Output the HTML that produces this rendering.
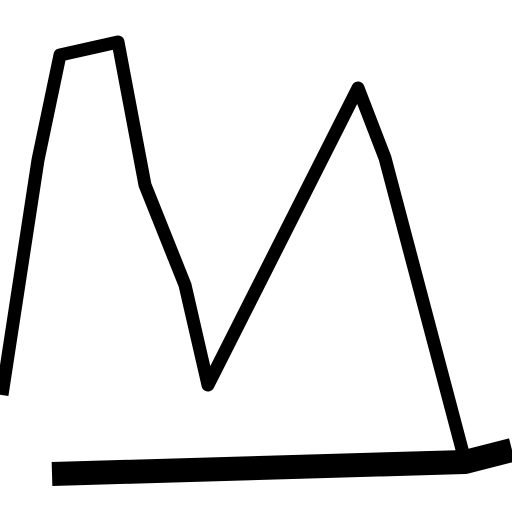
<!DOCTYPE html>
<html><head><meta charset="utf-8"><style>
html,body{margin:0;padding:0;background:#fff;width:512px;height:512px;overflow:hidden}
svg{display:block}
</style></head><body>
<svg id="chart" width="512" height="512" viewBox="0 0 512 512"></svg>
<script>
const lineX = [2, 38, 60, 118, 145, 185, 208, 358, 385, 468];
const lineY = [117, 352, 457, 470, 327, 227, 127, 424, 354, 40];
const baseX = [52, 465, 512];
const baseY = [38, 50, 62];
function sx(v){ return v * 512 / 512; }
function sy(v){ return 512 - v * 512 / 512; }
const svg = document.getElementById('chart');
const NS = 'http://www.w3.org/2000/svg';
function path(xs, ys, w, name){
  const p = document.createElementNS(NS, 'path');
  let d = '';
  for (let i = 0; i < xs.length; i++) d += (i ? 'L' : 'M') + sx(xs[i]) + ',' + sy(ys[i]);
  p.setAttribute('d', d);
  p.setAttribute('fill', 'none');
  p.setAttribute('stroke', '#000');
  p.setAttribute('stroke-width', w);
  p.setAttribute('stroke-linejoin', 'round');
  
  
  svg.appendChild(p);
}
path(baseX, baseY, 24, 'baseline-series');
path(lineX, lineY, 13, 'main-series-line');
</script>
</body></html>
